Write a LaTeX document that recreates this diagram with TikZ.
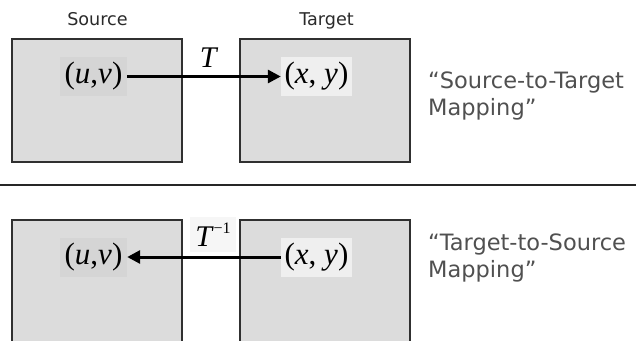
\documentclass[tikz,border=0pt]{standalone}
\usepackage{fontspec}
\setmainfont{Liberation Serif}
\newfontfamily\labelfont{DejaVu Sans}
\usetikzlibrary{arrows.meta}
\definecolor{boxfill}{HTML}{DCDCDC}
\definecolor{boxline}{HTML}{303030}
\definecolor{uvfill}{HTML}{D5D5D5}
\definecolor{xyfill}{HTML}{EFEFEF}
\definecolor{tinvfill}{HTML}{F6F6F6}
\definecolor{captext}{HTML}{2A2A2A}
\definecolor{sidetext}{HTML}{505050}
\tikzset{
  panel/.style={draw=boxline, fill=boxfill, line width=1.5pt},
  mathlbl/.style={inner sep=0pt, minimum height=39pt, font=\fontsize{31}{31}\selectfont},
  headlbl/.style={anchor=base, inner sep=0pt, text=captext, font=\labelfont\fontsize{17.6}{20}\selectfont},
  sidelbl/.style={anchor=base west, inner sep=0pt, text=sidetext, font=\labelfont\fontsize{22.5}{27}\selectfont},
  maparrow/.style={line width=3pt, -{Triangle[length=13pt,width=13pt]}},
}
\begin{document}
\begin{tikzpicture}[x=1pt,y=-1pt]
\useasboundingbox (0,0) rectangle (636,340);
\begin{scope}
\clip (0,0) rectangle (636,340);
% top panels
\draw[panel] (12,39) rectangle (182,162);
\draw[panel] (240,39) rectangle (410,162);
% bottom panels
\draw[panel] (12,220) rectangle (182,360);
\draw[panel] (240,220) rectangle (410,360);
\end{scope}
% separator
\coordinate (sepL) at (0,185);
\coordinate (sepR) at (636,185);
\draw[line width=2pt, draw=black!85] (sepL) -- (sepR);
% headings
\node[headlbl] (hsrc) at (97.5,25) {Source};
\node[headlbl] (htgt) at (326.5,25) {Target};
% top row
\node[mathlbl, fill=uvfill, minimum width=67pt] (uv1) at (93.5,76.5) {(\textit{u},\textit{v})};
\node[mathlbl, fill=xyfill, minimum width=71pt] (xy1) at (316.5,76.5) {(\textit{x}, \textit{y})};
\draw[maparrow] (uv1.east) -- (xy1.west);
\node[inner sep=0pt, font=\fontsize{30}{30}\selectfont] (t1) at (209,58) {\textit{T}};
% bottom row
\node[mathlbl, fill=uvfill, minimum width=67pt] (uv2) at (93.5,257) {(\textit{u},\textit{v})};
\node[mathlbl, fill=xyfill, minimum width=71pt] (xy2) at (316.5,257) {(\textit{x}, \textit{y})};
\draw[maparrow] (xy2.west) -- (uv2.east);
\node[inner sep=0pt, fill=tinvfill, minimum width=46pt, minimum height=35pt, font=\fontsize{30}{30}\selectfont] (t2) at (213,234.5) {\textit{T}\raisebox{0.45em}{\fontsize{16}{16}\selectfont −1}};
% side captions
\node[sidelbl] (s1a) at (428,88) {“Source-to-Target};
\node[sidelbl] (s1b) at (428,115) {Mapping”};
\node[sidelbl] (s2a) at (428,250) {“Target-to-Source};
\node[sidelbl] (s2b) at (428,277) {Mapping”};
\end{tikzpicture}
\end{document}
